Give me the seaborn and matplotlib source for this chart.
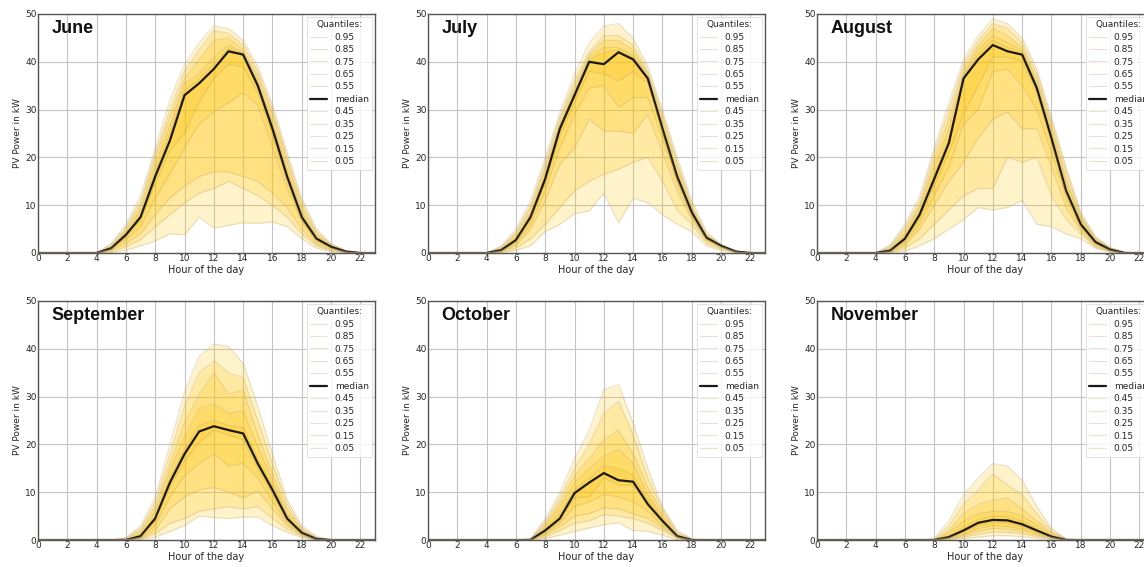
import numpy as np
import matplotlib
matplotlib.use("Agg")
import matplotlib.pyplot as plt
import seaborn as sns

hours = np.arange(24)
quantiles = [0.05, 0.15, 0.25, 0.35, 0.45, 0.5, 0.55, 0.65, 0.75, 0.85, 0.95]
months = ["June", "July", "August", "September", "October", "November"]

# first hour listed for each month (values before are 0, values after the list are 0)
starts = [5, 5, 5, 6, 7, 8]

# rows follow `quantiles` order (0.05 ... 0.95), index 5 is the median
june = [
    [0.1, 0.6, 1.5, 2.5, 4.0, 3.8, 7.5, 5.2, 5.8, 6.3, 6.2, 6.5, 5.5, 3.0, 1.0, 0.3, 0.05],
    [0.3, 1.3, 2.8, 5.5, 8.0, 10.5, 12.5, 13.5, 15.0, 13.5, 12.0, 10.0, 7.5, 4.0, 1.5, 0.5, 0.1],
    [0.5, 2.0, 4.0, 8.0, 11.5, 14.0, 16.0, 17.0, 17.0, 16.0, 15.0, 12.5, 9.5, 5.0, 1.8, 0.7, 0.15],
    [0.7, 2.8, 5.5, 11.5, 16.5, 22.0, 27.0, 29.5, 31.5, 33.5, 31.0, 22.0, 13.5, 6.5, 2.3, 0.9, 0.2],
    [0.9, 3.3, 6.8, 14.5, 21.5, 25.0, 31.5, 36.5, 39.5, 39.0, 33.5, 24.5, 15.0, 7.0, 2.7, 1.1, 0.25],
    [1.0, 3.8, 7.5, 16.0, 23.5, 33.0, 35.5, 38.5, 42.2, 41.5, 35.0, 26.0, 16.0, 7.5, 3.0, 1.3, 0.3],
    [1.1, 4.0, 8.0, 17.0, 25.0, 34.0, 36.5, 39.5, 42.8, 41.8, 35.5, 26.5, 16.5, 8.0, 3.2, 1.4, 0.3],
    [1.3, 4.5, 9.0, 18.5, 26.5, 35.5, 37.5, 41.0, 43.5, 42.0, 36.0, 27.5, 17.5, 8.5, 3.5, 1.5, 0.35],
    [1.5, 5.0, 10.0, 20.0, 28.5, 36.5, 40.5, 44.5, 45.0, 42.5, 37.0, 29.0, 19.0, 9.5, 4.0, 1.6, 0.4],
    [1.8, 5.5, 11.0, 21.0, 30.0, 38.0, 42.5, 46.5, 46.0, 43.5, 38.0, 30.0, 20.0, 10.5, 4.5, 1.8, 0.5],
    [2.0, 6.0, 12.0, 22.0, 32.0, 39.5, 44.0, 47.5, 47.0, 44.5, 39.0, 31.0, 21.0, 11.5, 5.0, 2.0, 0.6],
]
july = [
    [0.1, 0.5, 1.5, 4.5, 6.0, 8.2, 8.8, 12.5, 6.3, 11.5, 10.5, 8.0, 6.0, 4.5, 1.5, 0.5, 0.1],
    [0.2, 1.0, 3.0, 6.0, 9.5, 13.0, 15.0, 16.5, 17.5, 19.0, 20.0, 15.0, 9.0, 6.0, 2.0, 0.8, 0.15],
    [0.3, 1.5, 5.0, 11.0, 18.5, 22.0, 28.0, 25.5, 25.5, 25.0, 29.0, 21.0, 13.0, 7.0, 2.5, 1.1, 0.2],
    [0.4, 2.0, 6.0, 13.0, 22.0, 29.0, 34.5, 35.0, 30.5, 32.5, 32.5, 24.0, 14.5, 7.5, 2.8, 1.3, 0.2],
    [0.5, 2.4, 7.0, 14.5, 24.5, 31.5, 38.0, 37.5, 36.0, 38.0, 35.5, 25.5, 15.5, 8.0, 3.0, 1.4, 0.25],
    [0.6, 2.7, 7.5, 15.5, 26.0, 33.0, 40.0, 39.5, 42.0, 40.5, 36.5, 26.0, 16.0, 8.5, 3.2, 1.5, 0.3],
    [0.7, 3.0, 8.0, 16.0, 26.5, 33.5, 40.5, 42.0, 42.5, 41.0, 36.8, 26.5, 16.5, 8.8, 3.3, 1.5, 0.3],
    [0.9, 3.5, 8.5, 17.0, 27.0, 34.0, 41.0, 43.0, 43.0, 41.5, 37.0, 27.0, 17.0, 9.0, 3.5, 1.5, 0.35],
    [1.1, 4.0, 9.5, 18.0, 28.0, 35.0, 41.5, 44.5, 44.5, 42.5, 37.5, 28.0, 18.0, 9.5, 3.8, 1.6, 0.4],
    [1.3, 4.5, 10.0, 19.0, 28.5, 36.0, 42.0, 45.5, 45.5, 43.5, 38.0, 29.0, 19.0, 10.0, 4.0, 1.7, 0.4],
    [1.5, 5.0, 11.0, 20.0, 29.5, 37.5, 44.0, 47.5, 48.0, 45.0, 39.0, 30.0, 20.0, 11.0, 4.5, 1.8, 0.5],
]
august = [
    [0.05, 0.4, 1.5, 3.0, 5.0, 7.0, 9.5, 9.0, 9.5, 11.0, 6.0, 5.5, 4.0, 3.0, 1.0, 0.2, 0.0],
    [0.1, 1.0, 3.0, 6.0, 9.0, 12.0, 13.5, 13.5, 20.0, 19.0, 20.0, 12.0, 7.0, 4.0, 1.2, 0.3, 0.0],
    [0.2, 1.5, 5.0, 10.0, 15.0, 19.0, 24.0, 28.0, 29.5, 26.0, 26.0, 18.0, 9.5, 4.5, 1.5, 0.4, 0.0],
    [0.3, 2.0, 6.0, 12.0, 18.0, 27.0, 30.0, 38.0, 38.5, 35.0, 30.0, 21.0, 11.5, 5.0, 1.8, 0.5, 0.0],
    [0.4, 2.5, 7.0, 14.0, 21.0, 29.0, 35.0, 41.0, 41.0, 40.0, 33.5, 23.0, 12.5, 5.5, 2.0, 0.6, 0.0],
    [0.5, 3.0, 8.0, 15.5, 23.0, 36.5, 40.5, 43.5, 42.2, 41.5, 34.5, 24.0, 13.0, 6.0, 2.3, 0.7, 0.0],
    [0.7, 3.5, 8.5, 16.5, 24.0, 37.0, 41.5, 44.5, 43.0, 42.0, 35.0, 24.5, 13.5, 6.5, 2.5, 0.8, 0.0],
    [1.0, 4.0, 9.5, 18.0, 26.0, 37.5, 42.5, 45.5, 44.0, 42.5, 35.5, 25.5, 14.5, 7.0, 2.7, 0.9, 0.05],
    [1.2, 4.8, 10.0, 19.5, 28.0, 38.5, 43.5, 47.0, 45.5, 43.0, 36.5, 26.5, 15.5, 7.5, 3.0, 1.0, 0.1],
    [1.5, 5.5, 11.0, 21.0, 30.0, 39.5, 44.5, 48.0, 47.0, 44.0, 37.5, 27.5, 17.0, 8.0, 3.2, 1.1, 0.15],
    [1.8, 6.0, 12.0, 22.0, 31.5, 40.5, 45.5, 49.0, 48.0, 45.0, 38.5, 28.5, 18.0, 8.5, 3.5, 1.2, 0.2],
]
september = [
    [0.0, 0.1, 0.6, 1.8, 3.0, 5.0, 4.7, 4.5, 4.8, 4.8, 3.0, 1.6, 0.5, 0.0],
    [0.0, 0.2, 1.3, 3.5, 4.5, 6.0, 6.5, 7.0, 6.5, 7.0, 4.5, 2.3, 0.7, 0.0],
    [0.0, 0.3, 2.0, 6.5, 9.0, 10.5, 11.0, 10.0, 8.8, 10.3, 6.5, 3.0, 0.9, 0.05],
    [0.05, 0.4, 3.0, 9.0, 13.5, 16.0, 18.0, 15.5, 16.0, 13.0, 8.0, 3.5, 1.1, 0.1],
    [0.1, 0.6, 4.0, 11.0, 16.5, 20.5, 23.0, 22.0, 21.0, 15.0, 9.5, 4.0, 1.3, 0.15],
    [0.0, 0.8, 4.5, 12.0, 18.0, 22.7, 23.8, 23.0, 22.3, 16.0, 10.5, 4.5, 1.5, 0.2],
    [0.15, 1.1, 5.0, 13.0, 19.0, 24.0, 25.0, 24.0, 23.5, 17.0, 11.5, 5.0, 1.7, 0.3],
    [0.2, 1.6, 6.0, 14.5, 21.5, 27.5, 28.5, 26.5, 27.0, 19.5, 12.5, 5.5, 2.0, 0.4],
    [0.3, 2.0, 7.0, 16.0, 24.5, 30.5, 35.0, 30.5, 31.5, 22.0, 14.0, 6.5, 2.2, 0.5],
    [0.4, 2.5, 8.0, 18.0, 28.0, 35.0, 37.5, 35.0, 34.0, 25.0, 16.0, 7.5, 2.5, 0.6],
    [0.5, 3.0, 9.0, 20.0, 31.0, 38.5, 41.0, 40.5, 37.0, 28.0, 18.0, 8.5, 3.0, 0.8],
]
october = [
    [0.0, 0.3, 1.0, 1.8, 2.5, 3.2, 3.6, 2.0, 1.8, 1.0, 0.1, 0.0],
    [0.0, 0.6, 2.0, 3.5, 4.0, 5.3, 5.0, 4.5, 3.5, 2.0, 0.3, 0.0],
    [0.0, 1.0, 2.8, 5.0, 5.5, 6.7, 6.5, 5.5, 4.5, 2.5, 0.5, 0.0],
    [0.0, 1.3, 3.5, 7.0, 8.0, 9.5, 9.0, 8.0, 6.0, 3.0, 0.6, 0.0],
    [0.0, 1.6, 4.0, 8.8, 9.0, 13.0, 11.5, 11.5, 7.0, 3.6, 0.7, 0.0],
    [0.0, 2.0, 4.5, 9.8, 12.0, 14.0, 12.5, 12.2, 7.5, 4.0, 0.8, 0.0],
    [0.05, 2.5, 5.5, 10.5, 13.0, 15.5, 15.0, 13.5, 8.5, 4.5, 0.9, 0.05],
    [0.1, 3.0, 7.0, 12.0, 15.0, 17.5, 19.0, 16.0, 9.5, 5.0, 1.1, 0.1],
    [0.15, 3.5, 8.0, 13.5, 17.0, 21.0, 23.0, 18.0, 11.0, 5.8, 1.3, 0.15],
    [0.2, 4.0, 9.0, 15.0, 20.0, 26.5, 29.0, 22.0, 13.0, 6.5, 1.6, 0.2],
    [0.3, 4.5, 10.0, 17.0, 23.0, 31.5, 32.5, 24.5, 15.0, 7.0, 2.0, 0.3],
]
november = [
    [0.0, 0.1, 0.3, 0.6, 0.9, 0.9, 0.7, 0.4, 0.1, 0.0],
    [0.0, 0.2, 0.6, 1.2, 1.7, 1.6, 1.3, 0.7, 0.3, 0.0],
    [0.0, 0.3, 0.9, 1.8, 2.4, 2.2, 1.8, 1.0, 0.4, 0.0],
    [0.0, 0.4, 1.2, 2.4, 3.0, 2.8, 2.3, 1.3, 0.5, 0.0],
    [0.0, 0.5, 1.6, 3.0, 3.6, 3.5, 2.8, 1.6, 0.6, 0.0],
    [0.0, 0.6, 2.0, 3.6, 4.2, 4.1, 3.3, 2.0, 0.7, 0.0],
    [0.05, 1.0, 2.7, 4.3, 5.0, 4.9, 4.0, 2.5, 1.0, 0.05],
    [0.1, 1.5, 4.0, 5.5, 6.0, 6.0, 5.0, 3.2, 1.3, 0.1],
    [0.15, 2.0, 5.5, 7.5, 8.3, 8.8, 6.5, 4.0, 1.6, 0.15],
    [0.2, 3.0, 7.5, 10.5, 13.8, 11.5, 9.5, 5.5, 2.0, 0.2],
    [0.3, 4.0, 9.5, 13.0, 16.0, 15.5, 12.5, 7.0, 2.5, 0.3],
]
tables = [june, july, august, september, october, november]

FILL = "#FFC400"
EDGE = "#B9A270"

sns.set_theme(style="whitegrid")
plt.rcParams["font.family"] = ["DejaVu Sans"]

fig = plt.figure(figsize=(11.44, 5.67), dpi=100)
W, H = 1144, 567
lefts = [38, 428, 817]
tops = [14, 301]
aw, ah = 337, 239


def full_row(vals, start):
    row = np.zeros(24)
    row[start:start + len(vals)] = vals
    return row


for i, (name, table, start) in enumerate(zip(months, tables, starts)):
    r, c = divmod(i, 3)
    ax = fig.add_axes([lefts[c] / W, 1 - (tops[r] + ah) / H, aw / W, ah / H])
    q = {qq: full_row(v, start) for qq, v in zip(quantiles, table)}

    # nested quantile bands
    for lo, hi in [(0.05, 0.95), (0.15, 0.85), (0.25, 0.75), (0.35, 0.65), (0.45, 0.55)]:
        ax.fill_between(hours, q[lo], q[hi], color=FILL, alpha=0.2, lw=0)

    for qq in quantiles[::-1]:
        if qq == 0.5:
            sns.lineplot(x=hours, y=q[qq], ax=ax, color="#1a1a1a", lw=1.6, label="median")
        else:
            sns.lineplot(x=hours, y=q[qq], ax=ax, color=EDGE, alpha=0.3, lw=0.8,
                         label=f"{qq:.2f}")

    ax.set_xlim(0, 23)
    ax.set_ylim(0, 50)
    ax.set_xticks(range(0, 23, 2))
    ax.set_yticks(range(0, 51, 10))
    ax.tick_params(labelsize=6.5, pad=1, length=0)
    ax.grid(True, color="#c4c4c4", lw=0.8)
    for s in ax.spines.values():
        s.set_color("#555555")
        s.set_linewidth(1.0)
    ax.set_xlabel("Hour of the day", fontsize=7, labelpad=1)
    ax.set_ylabel("PV Power in kW", fontsize=6.5, labelpad=2)
    ax.text(0.04, 0.975, name, transform=ax.transAxes, fontsize=13, fontweight="bold",
            family=["Liberation Sans", "DejaVu Sans"], va="top", ha="left", color="#111111")
    leg = ax.legend(title="Quantiles:", loc="upper right", fontsize=6.5, title_fontsize=6.5,
                    frameon=True, handlelength=1.9, labelspacing=0.38, borderpad=0.4,
                    handletextpad=0.8, borderaxespad=0.3, fancybox=False)
    leg.get_frame().set_edgecolor("#dddddd")
    leg.get_frame().set_linewidth(0.8)

fig.savefig("out.png", dpi=100)
